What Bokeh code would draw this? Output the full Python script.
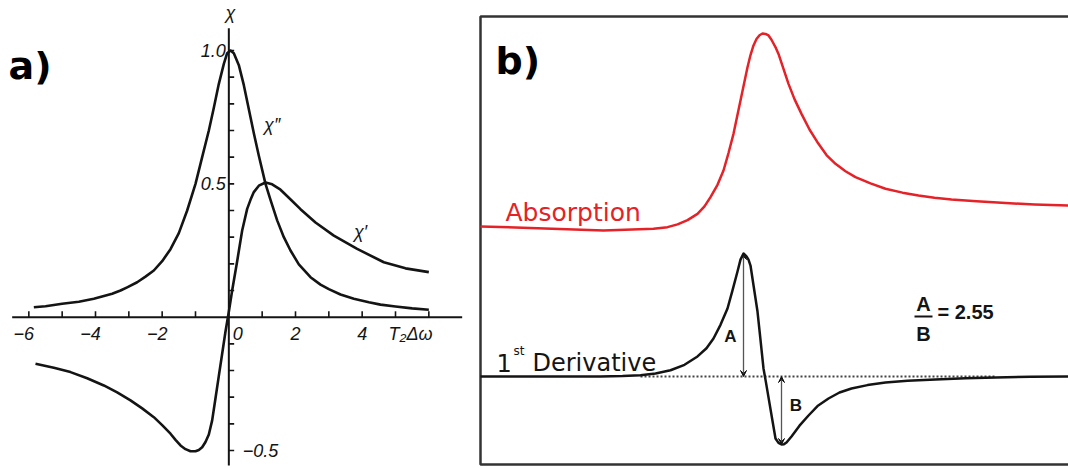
from bokeh.plotting import figure
from bokeh.layouts import row
from bokeh.models import Range1d, Arrow, VeeHead, ColumnDataSource, Label
from bokeh.core.properties import value
from bokeh.embed import file_html
from bokeh.resources import INLINE
import numpy as np

# ---------------- panel a: susceptibility vs T2*dw ----------------
chi_abs_x = [-5.85, -5.5, -5.0, -4.5, -4.05, -3.5, -3.25, -3.05, -2.75, -2.5,
             -2.25, -2.0, -1.75, -1.5, -1.25, -1.0, -0.8, -0.6, -0.45, -0.3,
             -0.15, -0.05, 0.05, 0.15, 0.3, 0.45, 0.6, 0.75, 0.9, 1.1,
             1.25, 1.45, 1.65, 1.85, 2.1, 2.45, 2.75, 3.0, 3.35, 3.75,
             4.2, 4.55, 5.0, 5.5, 6.0]
chi_abs_y = [0.037, 0.041, 0.050, 0.058, 0.069, 0.088, 0.100, 0.112, 0.131, 0.152,
             0.175, 0.210, 0.255, 0.315, 0.400, 0.500, 0.600, 0.700, 0.785, 0.875,
             0.950, 0.990, 1.000, 0.990, 0.945, 0.870, 0.780, 0.690, 0.605, 0.500,
             0.440, 0.363, 0.300, 0.250, 0.198, 0.150, 0.122, 0.105, 0.085, 0.069,
             0.056, 0.047, 0.040, 0.033, 0.028]

chi_disp_x = [-5.8, -5.25, -4.75, -4.25, -3.75, -3.35, -2.95, -2.6, -2.25, -2.0,
              -1.75, -1.6, -1.45, -1.3, -1.15, -1.0, -0.9, -0.8, -0.7, -0.6,
              -0.5, -0.4, -0.3, -0.2, -0.1, 0.0, 0.1, 0.25, 0.4, 0.55,
              0.65, 0.75, 0.9, 1.1, 1.3, 1.55, 1.8, 2.15, 2.6, 3.15,
              3.85, 4.65, 5.3, 6.0]
chi_disp_y = [-0.175, -0.190, -0.206, -0.229, -0.256, -0.282, -0.312, -0.342, -0.375, -0.405,
              -0.437, -0.460, -0.481, -0.495, -0.503, -0.503, -0.498, -0.488, -0.468, -0.440,
              -0.387, -0.304, -0.220, -0.137, -0.054, 0.020, 0.100, 0.210, 0.325, 0.406,
              0.440, 0.469, 0.493, 0.505, 0.498, 0.478, 0.448, 0.405, 0.355, 0.306,
              0.256, 0.206, 0.183, 0.169]

x_ticks = [-6, -5, -4, -3, -2, -1, 1, 2, 3, 4, 5, 6]
x_tick_labels = {-6: "\u22126", -4: "\u22124", -2: "\u22122", 0: "0", 2: "2", 4: "4"}
y_ticks = [-0.5, -0.4, -0.3, -0.2, -0.1, 0.1, 0.2, 0.3, 0.4, 0.5, 0.6, 0.7, 0.8, 0.9, 1.0]
y_tick_labels = {1.0: "1.0", 0.5: "0.5", -0.5: "\u22120.5"}

# ---------------- panel b: absorption line and its first derivative ----------------
field_abs = [-28.2, -22.5, -15.9, -10.9, -9.5, -8.5, -7.5, -6.5, -5.8, -5.2,
             -4.5, -3.9, -3.4, -2.9, -2.5, -2.2, -1.8, -1.5, -1.2, -0.9,
             -0.6, -0.3, 0.0, 0.3, 0.6, 0.9, 1.1, 1.35, 1.6, 2.1,
             2.6, 3.2, 3.9, 4.7, 5.6, 6.4, 7.3, 8.3, 9.3, 10.8,
             12.3, 14.0, 15.6, 17.2, 18.9, 21.4, 23.9, 27.2, 30.6]
absorption = [0.015, 0.007, -0.005, 0.004, 0.012, 0.026, 0.048, 0.080, 0.118, 0.165,
              0.228, 0.301, 0.390, 0.488, 0.585, 0.658, 0.755, 0.828, 0.890, 0.939,
              0.972, 0.991, 1.000, 0.998, 0.990, 0.968, 0.949, 0.925, 0.896, 0.820,
              0.743, 0.665, 0.590, 0.510, 0.437, 0.380, 0.335, 0.297, 0.267, 0.235,
              0.208, 0.188, 0.173, 0.162, 0.153, 0.144, 0.136, 0.128, 0.122]

field_der = [-28.2, -16.2, -14.0, -12.2, -10.7, -9.2, -7.8, -6.5, -5.6, -4.9,
             -4.2, -3.5, -3.0, -2.5, -2.2, -1.9, -1.6, -1.4, -1.2, -0.9,
             -0.5, -0.2, 0.1, 0.35, 0.6, 0.95, 1.3, 1.6, 1.9, 2.15,
             2.4, 2.9, 3.7, 4.6, 5.5, 6.6, 7.7, 8.9, 10.5, 12.3,
             14.5, 17.3, 20.3, 23.3, 26.8, 30.6]
derivative = [0.0, 0.0, 0.004, 0.011, 0.025, 0.051, 0.095, 0.163, 0.230, 0.309,
              0.420, 0.553, 0.700, 0.854, 0.950, 1.000, 0.976, 0.950, 0.902, 0.742,
              0.528, 0.297, 0.065, -0.050, -0.170, -0.337, -0.504, -0.540, -0.553, -0.550,
              -0.537, -0.488, -0.400, -0.317, -0.240, -0.179, -0.130, -0.098, -0.070, -0.049,
              -0.035, -0.024, -0.015, -0.008, -0.003, 0.0]

ratio_text = "= 2.55"

# ---------------- styling ----------------
INK = "#141414"
RED = "#e42227"
HAND = value("Liberation Sans")
SANS = value("DejaVu Sans")
BOLD = value("Liberation Sans")

# ============ panel a ============
pa = figure(width=470, height=468, x_range=Range1d(-6.85, 7.25), y_range=Range1d(-0.5675, 1.1875),
            output_backend="svg", toolbar_location=None,
            x_axis_location=None, y_axis_location=None,
            min_border_left=0, min_border_right=0, min_border_top=0, min_border_bottom=0)
pa.grid.visible = False
pa.outline_line_color = None
pa.background_fill_color = "white"
pa.border_fill_color = "white"

# coordinate axes crossing at the origin
pa.segment(x0=[-6.5, 0], y0=[0, -0.556], x1=[7.0, 0], y1=[0, 1.083], line_color=INK, line_width=2)
# tick marks: upward on the abscissa, to the right on the ordinate
pa.segment(x0=x_ticks, y0=[0] * len(x_ticks), x1=x_ticks, y1=[0.022] * len(x_ticks),
           line_color=INK, line_width=1.6)
pa.segment(x0=[0] * len(y_ticks), y0=y_ticks, x1=[0.16] * len(y_ticks), y1=y_ticks,
           line_color=INK, line_width=1.6)

pa.line(chi_abs_x, chi_abs_y, line_color=INK, line_width=2.6, line_join="round")
pa.line(chi_disp_x, chi_disp_y, line_color=INK, line_width=2.6, line_join="round")

tick_style = dict(text_font=HAND, text_font_style="italic", text_font_size="18px", text_color=INK,
                  text_baseline="middle")
neg = [k for k in x_tick_labels if k < 0]
pa.text(x=neg, y=[-0.0625] * len(neg), text=[x_tick_labels[k] for k in neg],
        text_align="center", x_offset=-5, **tick_style)
pos = [k for k in x_tick_labels if k > 0]
pa.text(x=pos, y=[-0.0625] * len(pos), text=[x_tick_labels[k] for k in pos],
        text_align="center", **tick_style)
pa.text(x=[0], y=[-0.0625], text=[x_tick_labels[0]], text_align="center", x_offset=9, **tick_style)
pa.text(x=[5.45], y=[-0.0625], text=["T\u2082\u0394\u03c9"], text_align="center", **tick_style)

up = [k for k in y_tick_labels if k > 0]
pa.text(x=[0] * len(up), y=up, text=[y_tick_labels[k] for k in up], text_align="right",
        x_offset=-3, **tick_style)
down = [k for k in y_tick_labels if k < 0]
pa.text(x=[0] * len(down), y=down, text=[y_tick_labels[k] for k in down], text_align="left",
        x_offset=14, **tick_style)

pa.text(x=[0.05], y=[1.14], text=["\u03c7"], text_align="center", **tick_style)
pa.text(x=[1.3, 3.95], y=[0.72, 0.318], text=["\u03c7\u2033", "\u03c7\u2032"],
        text_align="center", **tick_style)

pa.add_layout(Label(x=8, y=403, x_units="screen", y_units="screen", text="a)",
                    text_font="DejaVu Sans", text_font_style="bold",
                    text_font_size="38px", text_color="black", text_baseline="alphabetic"))

# ============ panel b ============
ABS_OFFSET = 1.47
ABS_SCALE = 1.96
DER_SCALE = 1.23

pb = figure(width=598, height=468, x_range=Range1d(-29.2, 30.6), y_range=Range1d(-0.92, 3.76),
            output_backend="svg", toolbar_location=None,
            x_axis_location=None, y_axis_location=None,
            min_border_left=0, min_border_right=0, min_border_top=0, min_border_bottom=0)
pb.grid.visible = False
pb.outline_line_color = None
pb.background_fill_color = "white"
pb.border_fill_color = "white"

# panel frame (open on the right, where the page ends)
pb.line(x=[30.6, -28.2, -28.2, 30.6], y=[3.6, 3.6, -0.88, -0.88],
        line_color="#333333", line_width=2.5)

# zero reference for the derivative
pb.line(x=[-12.2, 23.3], y=[0, 0], line_color="#444444", line_width=1.8, line_dash="2 2")

abs_src = ColumnDataSource(dict(x=field_abs, y=ABS_OFFSET + ABS_SCALE * np.array(absorption)))
pb.line("x", "y", source=abs_src, line_color=RED, line_width=2.5, line_join="round")

der_vals = DER_SCALE * np.array(derivative)
der_src = ColumnDataSource(dict(x=field_der, y=der_vals))
pb.line("x", "y", source=der_src, line_color=INK, line_width=2.5, line_join="round")

# peak-to-baseline arrows A and B
i_max = int(np.argmax(der_vals))
i_min = int(np.argmin(der_vals))
for xi, yi in ((field_der[i_max], der_vals[i_max]), (field_der[i_min], der_vals[i_min])):
    pb.add_layout(Arrow(x_start=xi, y_start=0, x_end=xi, y_end=float(yi),
                        start=VeeHead(size=6, line_color=INK, fill_color=INK, line_width=1),
                        end=VeeHead(size=6, line_color=INK, fill_color=INK, line_width=1),
                        line_color="#555555", line_width=1.3))

pb.text(x=[-3.2, 3.35], y=[0.40, -0.285], text=["A", "B"], text_align="center",
        text_baseline="middle", text_font=BOLD, text_font_style="bold",
        text_font_size="17px", text_color=INK)

# A/B ratio
pb.text(x=[16.1, 16.1], y=[0.725, 0.43], text=["A", "B"], text_align="center",
        text_baseline="middle", text_font=BOLD, text_font_style="bold",
        text_font_size="20px", text_color=INK)
pb.segment(x0=[15.2], y0=[0.6], x1=[17.0], y1=[0.6], line_color=INK, line_width=2)
pb.text(x=[17.5], y=[0.65], text=[ratio_text], text_align="left", text_baseline="middle",
        text_font=BOLD, text_font_style="bold", text_font_size="20px", text_color=INK)

# curve labels
pb.text(x=[-25.7], y=[1.64], text=["Absorption"], text_align="left", text_baseline="alphabetic",
        text_font=SANS, text_font_size="25px", text_color=RED)
pb.text(x=[-26.6], y=[0.14], text=["1"], text_align="left", text_baseline="alphabetic",
        text_font=SANS, text_font_size="24px", text_color=INK)
pb.text(x=[-24.9], y=[0.255], text=["st"], text_align="left", text_baseline="alphabetic",
        text_font=SANS, text_font_size="12px", text_color=INK)
pb.text(x=[-23.0], y=[0.14], text=["Derivative"], text_align="left", text_baseline="alphabetic",
        text_font=SANS, text_font_size="24px", text_color=INK)

pb.add_layout(Label(x=25, y=408, x_units="screen", y_units="screen", text="b)",
                    text_font="DejaVu Sans", text_font_style="bold",
                    text_font_size="38px", text_color="black", text_baseline="alphabetic"))

layout = row(pa, pb, spacing=0)
open("out.html", "w").write(file_html(layout, INLINE))
